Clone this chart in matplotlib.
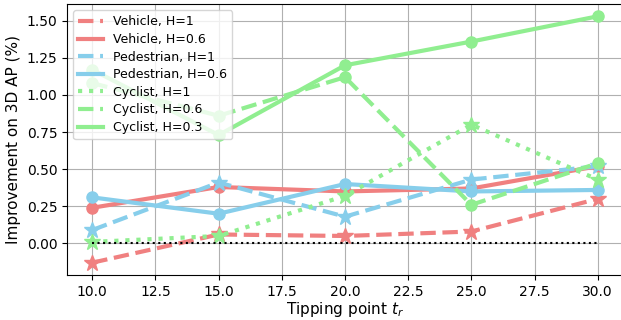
import matplotlib
matplotlib.use('Agg')
import matplotlib.pyplot as plt

# tipping points
tips = [10, 15, 20, 25, 30]

# improvement on 3D AP (%)
veh_h1 = [-0.13, 0.06, 0.05, 0.08, 0.30]
veh_h06 = [0.24, 0.38, 0.35, 0.37, 0.52]
ped_h1 = [0.09, 0.41, 0.18, 0.43, 0.52]
ped_h06 = [0.31, 0.20, 0.40, 0.35, 0.36]
cyc_h1 = [0.01, 0.05, 0.32, 0.80, 0.43]
cyc_h06 = [1.08, 0.86, 1.12, 0.26, 0.54]
cyc_h03 = [1.17, 0.73, 1.20, 1.36, 1.53]

red = 'lightcoral'
blue = 'skyblue'
green = 'lightgreen'
lw = 3

fig = plt.figure(figsize=(6.21, 3.2), dpi=100)
ax = fig.add_axes([67 / 621, 45 / 320, 556 / 621, 271 / 320])

series = [
    (veh_h1, red, '--', '*', 'Vehicle, H=1'),
    (veh_h06, red, '-', 'o', 'Vehicle, H=0.6'),
    (ped_h1, blue, '--', '*', 'Pedestrian, H=1'),
    (ped_h06, blue, '-', 'o', 'Pedestrian, H=0.6'),
    (cyc_h1, green, ':', '*', 'Cyclist, H=1'),
    (cyc_h06, green, '--', 'o', 'Cyclist, H=0.6'),
    (cyc_h03, green, '-', 'o', 'Cyclist, H=0.3'),
]

for vals, c, ls, mk, lab in series:
    ax.plot(tips, vals, color=c, linestyle=ls, linewidth=lw, label=lab)
    ax.plot(tips, vals, color=c, linestyle='none', marker=mk,
            markersize=12 if mk == '*' else 8)

ax.plot(tips, [0] * len(tips), color='black', linestyle=':', linewidth=1.5)

ax.set_xticks([10, 12.5, 15, 17.5, 20, 22.5, 25, 27.5, 30])
ax.set_xlim(9, 31)
ax.set_ylim(-0.213, 1.613)
ax.grid(True, color='#b0b0b0', linewidth=0.8)
ax.set_xlabel('Tipping point $t_r$', fontsize=11, labelpad=1)
ax.set_ylabel('Improvement on 3D AP (%)', fontsize=11)
ax.legend(loc='upper left', fontsize=9, labelspacing=0.37)

fig.savefig('out.png', dpi=100)
